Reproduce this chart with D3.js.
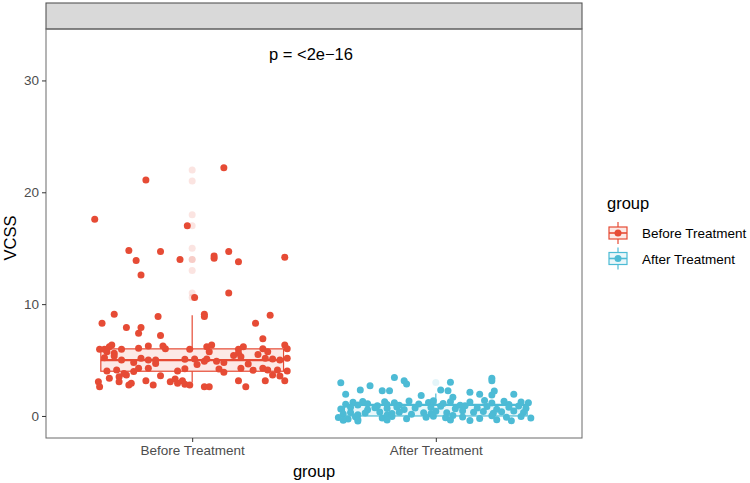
<!DOCTYPE html>
<html><head><meta charset="utf-8">
<script src="https://cdn.jsdelivr.net/npm/d3@7"></script>
<style>body{margin:0;background:#fff}svg{display:block}text{font-family:"Liberation Sans",Arial,sans-serif}</style>
</head><body><svg id="c" width="750" height="483"></svg>
<script>
const groups = ["Before Treatment", "After Treatment"];
const colors = ["#E64B35", "#4DBBD5"];
const yTicks = [0, 10, 20, 30];
// boxplot stats: [lowerWhisker, Q1, median, Q3, upperWhisker]
const boxBefore = [3, 4, 5, 6, 9];
const boxAfter = [0, 0, 1, 1, 2];
const outliersBefore = [10.6, 11, 13, 14, 14, 15, 17, 18, 21, 22];
const outliersAfter = [3];
// jittered points: x offset (category units) and value
const beforeX = [-0.40,-0.19,0.13,-0.02,-0.26,-0.23,-0.21,-0.13,-0.05,0.09,0.09,0.15,0.19,0.38,0.15,0.01,
 -0.37,-0.32,-0.27,-0.21,-0.22,-0.14,-0.13,0.05,0.05,0.26,0.32,0.29,
 -0.38,-0.36,-0.34,-0.33,-0.35,-0.32,-0.29,-0.22,-0.18,-0.12,-0.11,-0.01,0.06,0.08,0.07,0.19,0.21,0.19,0.29,0.31,0.38,0.39,
 -0.32,-0.29,-0.24,-0.21,-0.18,-0.15,-0.15,-0.03,0.01,0.05,0.06,0.10,0.13,0.20,0.23,0.30,0.33,0.36,0.39,
 -0.35,-0.31,-0.34,-0.30,-0.27,-0.24,-0.22,-0.18,-0.13,-0.06,-0.03,0.11,0.13,0.20,0.25,0.29,0.31,0.33,0.35,0.39,0.36,
 -0.385,-0.38,-0.30,-0.26,-0.25,-0.19,-0.16,-0.09,-0.06,-0.04,-0.03,-0.01,0.05,0.07,0.19,0.22,0.30,0.38,
 -0.36,-0.07,0.02,0.17,-0.28,0.27];
const beforeY = [17.6,21.1,22.2,17.0,14.8,13.9,12.6,14.7,14.0,14.3,14.1,14.7,13.8,14.2,11.0,10.6,
 8.3,9.1,7.9,7.9,7.4,8.9,7.2,9.1,8.9,8.3,9.0,6.9,
 5.97,5.97,6.2,6.35,5.75,5.6,5.97,6.05,6.26,6.26,6.0,5.97,6.2,6.35,5.75,5.97,6.2,5.6,6.0,5.75,6.35,6.0,
 5.37,5.0,4.77,5.16,5.0,5.0,4.7,5.07,5.1,4.9,5.1,4.9,4.77,5.3,4.65,5.16,5.1,5.0,5.16,
 4.02,4.1,3.37,3.5,3.67,3.97,4.27,4.27,3.6,4.02,4.23,4.2,3.9,4.27,4.09,4.27,4.1,3.67,4.1,4.02,3.58,
 3.07,2.62,3.07,2.77,2.92,3.16,2.77,3.07,2.92,3.16,2.83,2.77,2.62,2.62,3.16,2.62,3.16,3.16,
 5.2,3.3,4.6,5.4,3.8,5.5];
const afterX = [-0.39,-0.37,-0.31,-0.27,-0.22,-0.19,-0.17,-0.13,-0.12,-0.06,0.07,0.05,0.06,0.14,0.18,0.23,0.23,0.23,0.24,0.32,0.02,
 -0.37,-0.34,-0.32,-0.30,-0.28,-0.24,-0.21,-0.20,-0.17,-0.15,-0.11,-0.07,-0.03,
 -0.39,-0.35,-0.28,-0.25,-0.20,-0.16,-0.13,-0.085,
 -0.38,-0.35,-0.32,-0.29,-0.23,-0.20,-0.18,-0.15,-0.10,-0.05,-0.02,
 -0.40,-0.36,-0.33,-0.32,-0.22,-0.18,-0.12,-0.04,
 -0.38,-0.32,-0.20,
 -0.01,0.03,0.06,0.10,0.14,0.20,0.23,0.28,0.30,0.35,0.38,
 -0.02,0.02,0.08,0.12,0.17,0.21,0.25,0.30,0.34,0.37,
 0.00,0.045,0.11,0.155,0.195,0.236,0.27,0.32,0.36,
 -0.01,0.04,0.07,0.11,0.18,0.23,0.29,0.35,0.39,
 0.06,0.14,0.25,0.31];
const afterY = [2.98,1.94,2.33,2.71,2.26,2.26,3.43,3.16,2.86,1.82,1.67,2.26,3.01,2.12,1.94,1.88,3.37,3.16,2.24,1.94,2.33,
 1.05,1.22,0.98,1.30,1.10,0.92,1.27,1.02,1.18,0.95,1.33,1.08,1.21,
 0.62,0.78,0.55,0.74,0.66,0.81,0.58,0.71,
 0.18,0.31,0.12,0.27,0.36,0.09,0.22,0.33,0.15,0.28,0.20,
 -0.14,-0.26,-0.08,-0.31,-0.18,-0.05,-0.24,-0.12,
 -0.38,-0.45,-0.35,
 1.35,1.12,1.28,0.96,1.24,1.38,1.15,1.31,1.02,1.26,1.18,
 0.76,0.88,0.64,0.92,0.72,0.85,0.61,0.79,0.90,0.68,
 0.42,0.29,0.46,0.33,0.40,0.25,0.37,0.44,0.31,
 -0.02,-0.15,0.05,-0.09,-0.22,0.02,-0.12,-0.04,-0.18,
 -0.36,-0.40,-0.33,-0.42];
const pLabel = "p = <2e\u221216";

const svg = d3.select("#c");
const L = 46, R = 582, T = 29, B = 438, stripTop = 3;
const x = d3.scaleLinear().domain([0.4, 2.6]).range([L, R]);
const y = d3.scaleLinear().domain([-1.97, 34.6]).range([B, T]);
const font = '"Liberation Sans",Arial,sans-serif';

// strip
svg.append("rect").attr("x", L).attr("y", stripTop).attr("width", R - L).attr("height", T - stripTop)
  .attr("fill", "#D9D9D9").attr("stroke", "#555").attr("stroke-width", 1.1);
// panel border
svg.append("rect").attr("x", L).attr("y", T).attr("width", R - L).attr("height", B - T)
  .attr("fill", "none").attr("stroke", "#6a6a6a").attr("stroke-width", 1);

const boxes = [boxBefore, boxAfter];
const outs = [outliersBefore, outliersAfter];
const ptsX = [beforeX, afterX], ptsY = [beforeY, afterY];
const hw = 0.375, pr = 3.5;
groups.forEach((g, i) => {
  const c = colors[i], cx = x(i + 1), s = boxes[i];
  const gg = svg.append("g");
  gg.append("line").attr("x1", cx).attr("x2", cx).attr("y1", y(s[3])).attr("y2", y(s[4])).attr("stroke", c).attr("stroke-width", 1.2);
  gg.append("line").attr("x1", cx).attr("x2", cx).attr("y1", y(s[1])).attr("y2", y(s[0])).attr("stroke", c).attr("stroke-width", 1.2);
  gg.append("rect").attr("x", x(i + 1 - hw)).attr("width", x(i + 1 + hw) - x(i + 1 - hw))
    .attr("y", y(s[3])).attr("height", y(s[1]) - y(s[3]))
    .attr("fill", c).attr("fill-opacity", 0.12).attr("stroke", c).attr("stroke-width", 1.2);
  gg.append("line").attr("x1", x(i + 1 - hw)).attr("x2", x(i + 1 + hw)).attr("y1", y(s[2])).attr("y2", y(s[2]))
    .attr("stroke", c).attr("stroke-width", 2.2);
  gg.selectAll("circle.o").data(outs[i]).join("circle").attr("class", "o")
    .attr("cx", cx).attr("cy", d => y(d)).attr("r", pr).attr("fill", c).attr("fill-opacity", 0.15);
  gg.selectAll("circle.p").data(ptsY[i].map((v, k) => [ptsX[i][k], v])).join("circle").attr("class", "p")
    .attr("cx", d => x(i + 1 + d[0])).attr("cy", d => y(d[1])).attr("r", pr).attr("fill", c);
});

// p label
svg.append("text").attr("x", x(1.5) - 3).attr("y", 60).attr("text-anchor", "middle")
  .attr("font-size", 16.5).attr("fill", "#000").text(pLabel);

// axes
const ya = svg.append("g").attr("transform", `translate(${L},0)`)
  .call(d3.axisLeft(y).tickValues(yTicks).tickSize(4).tickPadding(3));
ya.select(".domain").remove();
ya.selectAll("line").attr("stroke", "#333").attr("stroke-width", 1);
ya.selectAll("text").attr("font-size", 13.5).attr("fill", "#4D4D4D").attr("font-family", font);

const xa = svg.append("g").attr("transform", `translate(0,${B})`)
  .call(d3.axisBottom(x).tickValues([1, 2]).tickFormat(d => groups[d - 1]).tickSize(4).tickPadding(3));
xa.select(".domain").remove();
xa.selectAll("line").attr("stroke", "#333").attr("stroke-width", 1);
xa.selectAll("text").attr("font-size", 13.5).attr("fill", "#4D4D4D").attr("font-family", font);

svg.append("text").attr("x", (L + R) / 2).attr("y", 477).attr("text-anchor", "middle")
  .attr("font-size", 16.5).attr("fill", "#000").text("group");
svg.append("text").attr("transform", "translate(16,238) rotate(-90)").attr("text-anchor", "middle")
  .attr("font-size", 16.5).attr("fill", "#000").text("VCSS");

// legend
const lg = svg.append("g");
lg.append("text").attr("x", 607).attr("y", 209).attr("font-size", 16.5).attr("fill", "#000").text("group");
groups.forEach((g, i) => {
  const cy = 233 + i * 25.5, c = colors[i];
  const k = lg.append("g");
  k.append("line").attr("x1", 618).attr("x2", 618).attr("y1", cy - 11).attr("y2", cy + 11).attr("stroke", c).attr("stroke-width", 1.2);
  k.append("rect").attr("x", 609).attr("y", cy - 6).attr("width", 18).attr("height", 12)
    .attr("fill", "#fff").attr("stroke", c).attr("stroke-width", 1.2);
  k.append("rect").attr("x", 609).attr("y", cy - 6).attr("width", 18).attr("height", 12)
    .attr("fill", c).attr("fill-opacity", 0.12);
  k.append("line").attr("x1", 609).attr("x2", 627).attr("y1", cy).attr("y2", cy).attr("stroke", c).attr("stroke-width", 1.6);
  k.append("circle").attr("cx", 618).attr("cy", cy).attr("r", pr).attr("fill", c);
  lg.append("text").attr("x", 642).attr("y", cy + 5).attr("font-size", 13.5).attr("fill", "#000").text(g);
});
</script></body></html>
